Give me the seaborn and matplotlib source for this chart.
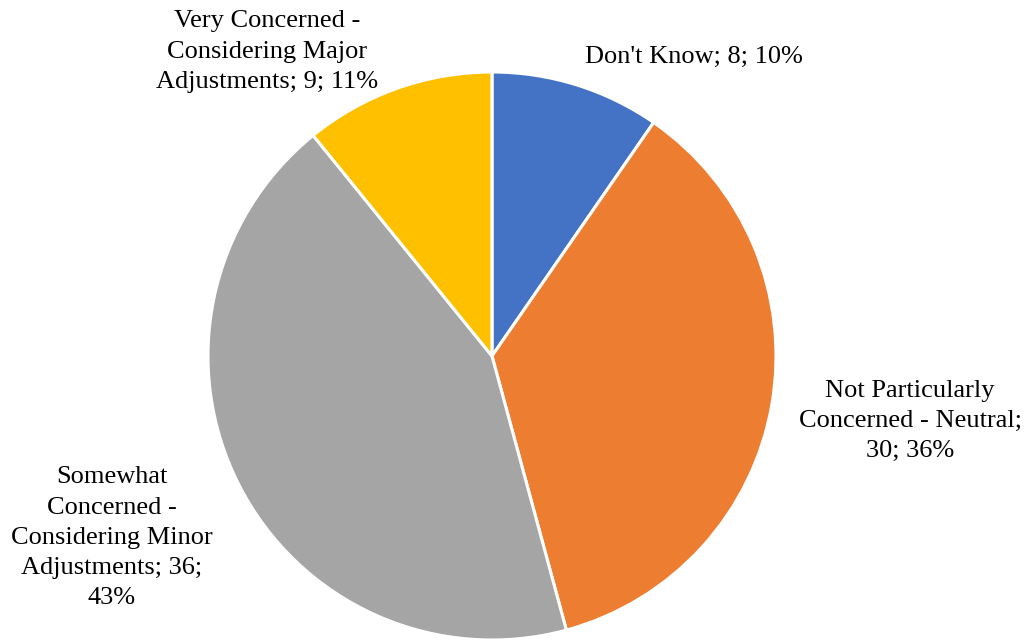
import matplotlib
matplotlib.use("Agg")
import matplotlib.pyplot as plt
import seaborn as sns

# Survey responses
categories = [
    "Don't Know",
    "Not Particularly\nConcerned - Neutral",
    "Somewhat\nConcerned -\nConsidering Minor\nAdjustments",
    "Very Concerned -\nConsidering Major\nAdjustments",
]
counts = [8, 30, 36, 9]
percents = ["10%", "36%", "43%", "11%"]
colors = ["#4472C4", "#ED7D31", "#A5A5A5", "#FFC000"]

# label text layout (pie units: centre at 0,0, radius 1)
label_text = [
    "Don't Know; 8; 10%",
    "Not Particularly\nConcerned - Neutral;\n30; 36%",
    "Somewhat\nConcerned -\nConsidering Minor\nAdjustments; 36;\n43%",
    "Very Concerned -\nConsidering Major\nAdjustments; 9; 11%",
]
label_pos = [(0.711, 1.053), (1.472, -0.228), (-1.338, -0.64), (-0.792, 1.072)]

sns.set_theme(style="white")
plt.rcParams["font.family"] = ["Liberation Serif", "DejaVu Serif"]

fig = plt.figure(figsize=(10.26, 6.41), dpi=100)
ax = fig.add_axes([0, 0, 1, 1])
ax.pie(
    counts,
    colors=colors,
    startangle=90,
    counterclock=False,
    radius=1.0,
    wedgeprops=dict(edgecolor="white", linewidth=2.2),
)
for txt, (x, y) in zip(label_text, label_pos):
    ax.text(x, y, txt, ha="center", va="center", fontsize=19,
            color="#000000", linespacing=1.48)

ax.set_xlim(-492 / 284, (1026 - 492) / 284)
ax.set_ylim(-(641 - 356) / 284, 356 / 284)
ax.set_aspect("auto")
ax.axis("off")
fig.savefig("out.png", dpi=100, facecolor="white")
